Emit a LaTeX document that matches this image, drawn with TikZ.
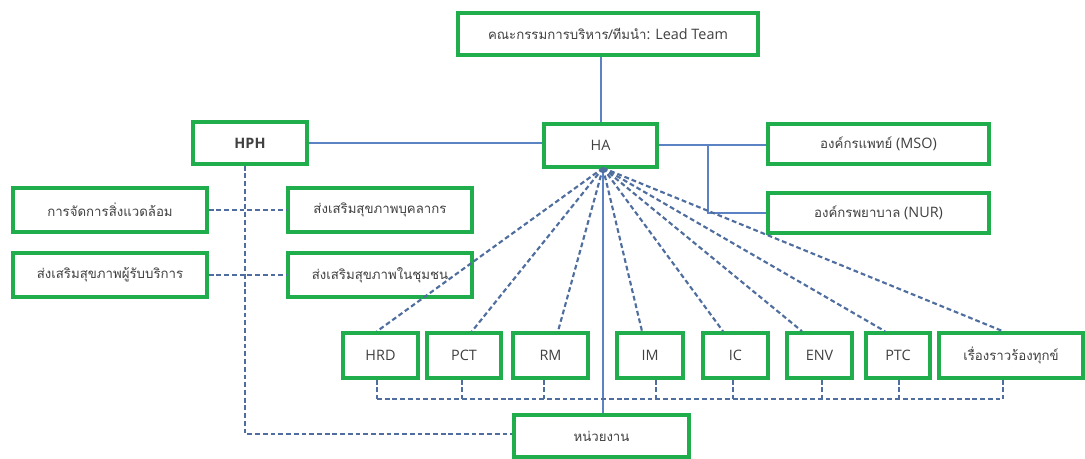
\documentclass[tikz,border=0pt]{standalone}
\usepackage{fontspec}
\setmainfont{Open Sans}
\newfontfamily\thaifont[Script=Thai,Scale=0.92]{Loma}
\newcommand\thx[1]{{\thaifont #1}}
\definecolor{bxgreen}{HTML}{1FAE4B}
\definecolor{lnblue}{HTML}{5B83C4}
\definecolor{dsblue}{HTML}{4F6E9F}
\definecolor{txt}{HTML}{404040}
\tikzset{
  box/.style={draw=bxgreen, line width=2.6pt, fill=white, inner sep=0pt, text=txt, font=\fontsize{10.8}{13}\selectfont},
  solidln/.style={draw=lnblue, line width=1.5pt},
  dashln/.style={draw=dsblue, line width=1.6pt, dash pattern=on 3.6pt off 2.2pt},
}
\newcommand\bx[6]{\node[box, minimum width={(#4-#2)*0.75pt}, minimum height={(#5-#3)*0.75pt}] (#1) at ({(#2+#4)/2},{(#3+#5)/2}) {#6};}
\begin{document}
\begin{tikzpicture}[x=0.75pt, y=-0.75pt]
\useasboundingbox (0,0) rectangle (1085,459);
% boxes
\bx{lead}{458}{13}{758}{55}{\thx{คณะกรรมการบริหาร/ทีมนำ}: Lead Team}
\bx{ha}{544}{124}{657}{167}{HA}
\bx{hph}{193}{122}{307}{164}{\textbf{HPH}}
\bx{mso}{768}{124}{989}{164}{\thx{องค์กรแพทย์} (MSO)}
\bx{nur}{768}{193}{989}{233}{\thx{องค์กรพยาบาล} (NUR)}
\bx{envm}{13}{188}{207}{232}{\thx{การจัดการสิ่งแวดล้อม}}
\bx{staff}{288}{188}{472}{232}{\thx{ส่งเสริมสุขภาพบุคลากร}}
\bx{client}{13}{253}{207}{297}{\thx{ส่งเสริมสุขภาพผู้รับบริการ}}
\bx{comm}{288}{253}{472}{297}{\thx{ส่งเสริมสุขภาพในชุมชน}}
\bx{hrd}{343}{333}{418}{378}{HRD}
\bx{pct}{427}{333}{501}{378}{PCT}
\bx{rm}{513}{333}{588}{378}{RM}
\bx{im}{617}{333}{683}{378}{IM}
\bx{ic}{703}{333}{768}{378}{IC}
\bx{env}{787}{333}{852}{378}{ENV}
\bx{ptc}{866}{333}{930}{378}{PTC}
\bx{cmp}{939}{333}{1083}{378}{\thx{เรื่องราวร้องทุกข์}}
\bx{unit}{514}{415}{689}{457}{\thx{หน่วยงาน}}
% coordinates
\coordinate (hap) at (603,168);
\coordinate (busy) at (0,399);
\coordinate (br) at (708,144);
% solid connectors
\draw[solidln] (ha.north) -- (ha.north |- lead.south);
\draw[solidln] (hph.east) -- (hph.east -| ha.west);
\draw[solidln] (ha.east) -- (ha.east -| mso.west);
\draw[solidln] (br) |- (nur.west);
\draw[solidln] (hap) -- (hap |- unit.north);
% fan
\foreach \n/\s in {hrd/-3.5, pct/8, rm/7.5, im/-8, ic/-12.5, env/-17.5, ptc/-13, cmp/-8}
  \draw[dashln] (hap) -- ([xshift=\s*0.75pt]\n.north);
% bottom bus
\foreach \n/\s in {hrd/-3.5, pct/-2, rm/-6.5, im/6, ic/-2.5, env/2.5, ptc/1, cmp/-8}
  \draw[dashln] ([xshift=\s*0.75pt]\n.south) -- ([xshift=\s*0.75pt]\n.south |- busy);
\draw[dashln] ([xshift=-3.5*0.75pt]hrd.south |- busy) -- ([xshift=-8*0.75pt]cmp.south |- busy);
% HPH
\draw[dashln] ([xshift=-5*0.75pt]hph.south) |- ([yshift=1.5pt]unit.west);
\draw[dashln] (envm.east) -- (staff.west);
\draw[dashln] (client.east) -- (comm.west);
\end{tikzpicture}
\end{document}
